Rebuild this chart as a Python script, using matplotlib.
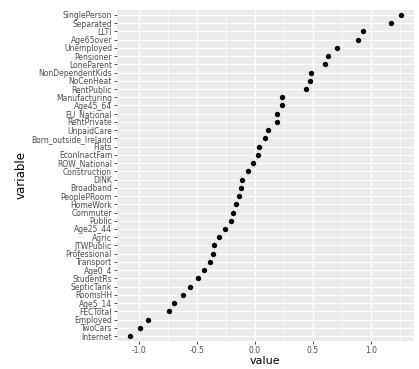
import matplotlib
matplotlib.use("Agg")
import matplotlib.pyplot as plt
import numpy as np

variables = [
    "SinglePerson", "Separated", "LLTI", "Age65over", "Unemployed",
    "Pensioner", "LoneParent", "NonDependentKids", "NoCenHeat", "RentPublic",
    "Manufacturing", "Age45_64", "EU_National", "RentPrivate", "UnpaidCare",
    "Born_outside_Ireland", "Flats", "EconInactFam", "ROW_National", "Construction",
    "DINK", "Broadband", "PeoplePRoom", "HomeWork", "Commuter",
    "Public", "Age25_44", "Agric", "JTWPublic", "Professional",
    "Transport", "Age0_4", "StudentRs", "SepticTank", "RoomsHH",
    "Age5_14", "FECTotal", "Employed", "TwoCars", "Internet",
]
values = [
    1.26, 1.17, 0.93, 0.89, 0.71,
    0.63, 0.60, 0.48, 0.47, 0.44,
    0.23, 0.23, 0.19, 0.19, 0.11,
    0.085, 0.035, 0.03, -0.02, -0.06,
    -0.11, -0.12, -0.14, -0.16, -0.19,
    -0.21, -0.26, -0.31, -0.35, -0.36,
    -0.39, -0.44, -0.49, -0.56, -0.62,
    -0.70, -0.74, -0.92, -0.99, -1.08,
]
x_ticks = [-1.0, -0.5, 0.0, 0.5, 1.0]
x_labels = ["-1.0", "-0.5", "0.0", "0.5", "1.0"]

n = len(variables)
ypos = np.arange(n)[::-1]

fig = plt.figure(figsize=(4.19, 3.69), dpi=100)
ax = fig.add_axes([0.279, 0.076, 0.709, 0.897])
ax.set_facecolor("#EBEBEB")

ax.scatter(values, ypos, s=15, color="black", zorder=3, linewidths=0)

ax.set_xlim(-1.19, 1.37)
ax.set_ylim(-0.6, n - 1 + 0.6)
ax.set_yticks(ypos)
ax.set_yticklabels(variables)
ax.set_xticks(x_ticks)
ax.set_xticklabels(x_labels)
ax.set_xticks([-0.75, -0.25, 0.25, 0.75, 1.25], minor=True)

ax.grid(True, which="major", color="white", linewidth=0.9, zorder=0)
ax.grid(True, which="minor", axis="x", color="white", linewidth=0.45, zorder=0)
ax.set_axisbelow(True)
for s in ax.spines.values():
    s.set_visible(False)

ax.tick_params(axis="both", which="major", length=2, width=0.6, color="#333333",
               labelsize=5.5, labelcolor="#4D4D4D", pad=1.5)
ax.tick_params(axis="both", which="minor", length=0)

ax.set_xlabel("value", fontsize=8, labelpad=0.5)
ax.set_ylabel("variable", fontsize=8.5, labelpad=3)

fig.savefig("out.png", dpi=100)
